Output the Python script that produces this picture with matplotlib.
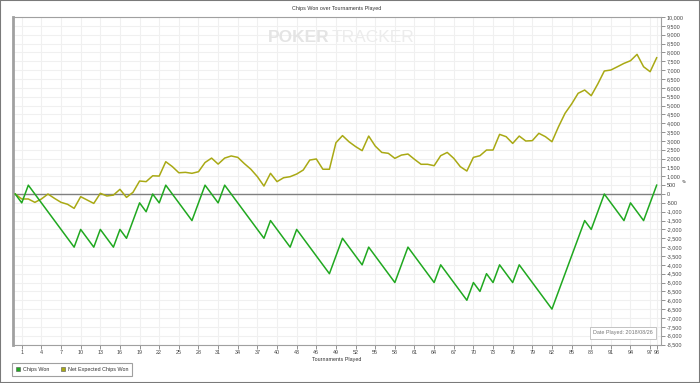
import matplotlib
matplotlib.use("Agg")
import matplotlib.pyplot as plt
from matplotlib.patches import Rectangle
from matplotlib.lines import Line2D
from matplotlib import font_manager

names = set(f.name for f in font_manager.fontManager.ttflist)
if 'Liberation Sans Narrow' in names:
    plt.rcParams['font.family'] = ['Liberation Sans Narrow', 'DejaVu Sans']
    fs = 4.6
else:
    plt.rcParams['font.family'] = ['Liberation Sans', 'DejaVu Sans']
    fs = 3.9

# tournaments 0..98
tournaments = list(range(99))

chips_won = [
    0, -500, 500, 0, -500, -1000, -1500, -2000, -2500, -3000,
    -2000, -2500, -3000, -2000, -2500, -3000, -2000, -2500, -1500, -500,
    -1000, 0, -500, 500, 0, -500, -1000, -1500, -500, 500,
    0, -500, 500, 0, -500, -1000, -1500, -2000, -2500, -1500,
    -2000, -2500, -3000, -2000, -2500, -3000, -3500, -4000, -4500, -3500,
    -2500, -3000, -3500, -4000, -3000, -3500, -4000, -4500, -5000, -4000,
    -3000, -3500, -4000, -4500, -5000, -4000, -4500, -5000, -5500, -6000,
    -5000, -5500, -4500, -5000, -4000, -4500, -5000, -4000, -4500, -5000,
    -5500, -6000, -6500, -5500, -4500, -3500, -2500, -1500, -2000, -1000,
    0, -500, -1000, -1500, -500, -1000, -1500, -500, 500,
]

net_expected = [
    0, -280, -280, -470, -280, 0, -245, -470, -580, -810,
    -150, -340, -530, 40, -110, -60, 265, -190, 100, 735,
    700, 1030, 1015, 1825, 1550, 1200, 1225, 1170, 1260, 1780,
    2030, 1690, 2030, 2150, 2070, 1720, 1400, 980, 450, 1170,
    700, 920, 980, 1130, 1355, 1920, 1980, 1400, 1400, 2900,
    3300, 2950, 2680, 2450, 3275, 2710, 2350, 2300, 2015, 2200,
    2260, 1960, 1680, 1680, 1600, 2165, 2350, 2015, 1545, 1300,
    2070, 2165, 2485, 2485, 3370, 3240, 2860, 3275, 2995, 3015,
    3430, 3240, 2955, 3800, 4560, 5085, 5690, 5875, 5555, 6215,
    6950, 7005, 7190, 7380, 7530, 7890, 7190, 6910, 7700,
]

x_ticks = list(range(1, 98, 3)) + [98]
y_ticks = list(range(-8500, 10001, 500))

green = '#20a820'
olive = '#a9a914'
grey = '#808080'

fig = plt.figure(figsize=(7, 3.83), dpi=100)
fig.patches.append(Rectangle((0, 0), 1, 1, transform=fig.transFigure,
                             fill=False, edgecolor='#7a7a7a', linewidth=1.5))

ax = fig.add_axes([13 / 700, 1 - 344.5 / 383, 648 / 700, 327.5 / 383])
ax.set_xlim(-0.34, 98.66)
ax.set_ylim(-8500, 10000)

ax.set_xticks(x_ticks)
ax.set_xticklabels([str(t) for t in x_ticks])
ax.set_yticks(y_ticks)
ax.set_yticklabels(['{:,}'.format(v) for v in y_ticks])
ax.yaxis.tick_right()
ax.tick_params(axis='both', labelsize=fs, colors='#444444', length=3, width=0.6, pad=1.2)
ax.tick_params(axis='both', color=grey)

ax.grid(True, color='#f0f0f0', linewidth=0.8)
ax.set_axisbelow(True)

for side in ['top', 'right', 'bottom']:
    ax.spines[side].set_color('#a0a0a0')
    ax.spines[side].set_linewidth(0.8)
ax.spines['left'].set_color('#a0a0a0')
ax.spines['left'].set_linewidth(2)

ax.axhline(0, color=grey, linewidth=1, zorder=2)

# watermark
ax.text(0.488, 0.936, 'POKER', transform=ax.transAxes, ha='right', va='center',
        fontsize=12.5, fontweight='bold', color='#e4e4e4', zorder=1)
ax.text(0.491, 0.936, 'TRACKER', transform=ax.transAxes, ha='left', va='center',
        fontsize=12.5, color='#ececec', zorder=1)

ax.plot(tournaments, net_expected, color=olive, linewidth=1.1, zorder=3)
ax.plot(tournaments, chips_won, color=green, linewidth=1.1, zorder=4)

ax.set_title('Chips Won over Tournaments Played', fontsize=fs, color='#333333', pad=5)
ax.set_xlabel('Tournaments Played', fontsize=fs, color='#333333', labelpad=1)

fig.text(685 / 700, 1 - 180 / 383, '#', fontsize=fs, color='#333333', rotation=90,
         ha='center', va='center')

ax.text(0.988, 0.028, 'Date Played: 2018/08/26', transform=ax.transAxes,
        ha='right', va='bottom', fontsize=fs, color='#777777', zorder=5,
        bbox=dict(boxstyle='square,pad=0.6', facecolor='white', edgecolor='#bbbbbb', linewidth=0.6))

handles = [Line2D([], [], marker='s', linestyle='none', markersize=3.2,
                  markerfacecolor=green, markeredgecolor='#555555', markeredgewidth=0.4),
           Line2D([], [], marker='s', linestyle='none', markersize=3.2,
                  markerfacecolor=olive, markeredgecolor='#555555', markeredgewidth=0.4)]
leg = fig.legend(handles, ['Chips Won', 'Net Expected Chips Won'], ncol=2,
                 loc='lower left', bbox_to_anchor=(12 / 700, 1 - 376 / 383),
                 fontsize=fs, frameon=True, fancybox=False, handlelength=0.8,
                 handletextpad=0.5, columnspacing=2.2, borderpad=0.7, borderaxespad=0)
leg.get_frame().set_edgecolor('#888888')
leg.get_frame().set_linewidth(0.8)
for t in leg.get_texts():
    t.set_color('#333333')

fig.savefig('out.png', dpi=100)
